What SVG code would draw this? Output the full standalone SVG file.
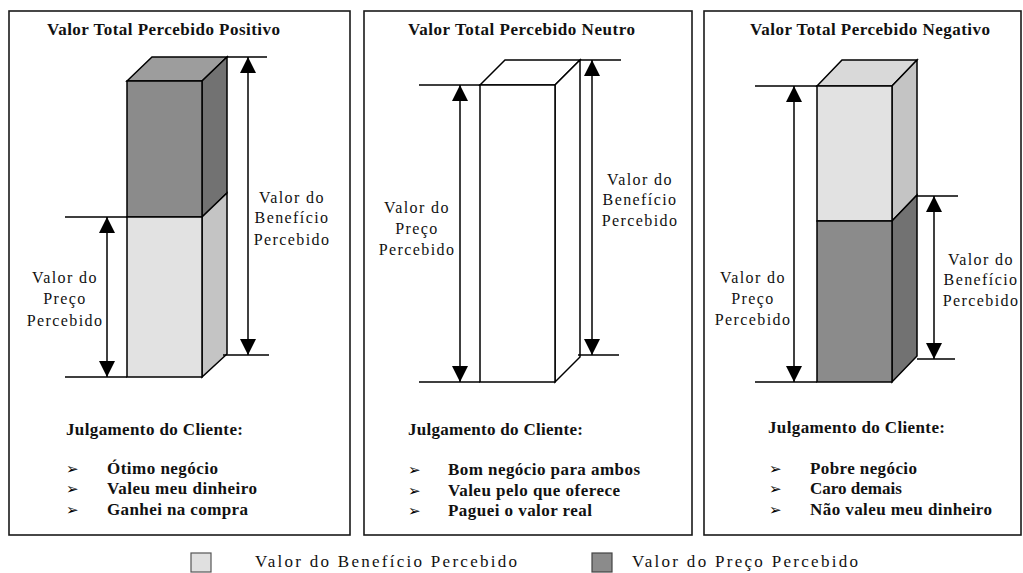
<svg xmlns="http://www.w3.org/2000/svg" width="1023" height="573" viewBox="0 0 1023 573">
  <style>
    .panel { fill: #ffffff; stroke: #1a1a1a; stroke-width: 1.6; }
    .edge { stroke: #000000; stroke-width: 1.5; stroke-linejoin: miter; }
    .dim { stroke: #000000; stroke-width: 1.5; fill: none; }
    .arrow { stroke: #000000; stroke-width: 1.5; fill: none; marker-start: url(#ah); marker-end: url(#ah); }
    .title { font-family: "Liberation Serif", "Times New Roman", serif; font-size: 17px; font-weight: bold; fill: #111111; }
    .label { font-family: "Liberation Serif", "Times New Roman", serif; font-size: 16px; letter-spacing: 1.4px; fill: #111111; text-anchor: middle; }
    .judge { font-family: "Liberation Serif", "Times New Roman", serif; font-size: 17px; font-weight: bold; fill: #111111; }
    .bullet { font-family: "DejaVu Sans", sans-serif; font-size: 15px; fill: #000000; }
    .legend { font-family: "Liberation Serif", "Times New Roman", serif; font-size: 17px; fill: #111111; }
    .darkTop { fill: #9d9d9d; }
    .darkFront { fill: #8b8b8b; }
    .darkSide { fill: #727272; }
    .lightTop { fill: #d9d9d9; }
    .lightFront { fill: #e2e2e2; }
    .lightSide { fill: #c4c4c4; }
    .blank { fill: #ffffff; }
  </style>
  <defs>
    <marker id="ah" viewBox="0 0 16 16" refX="16" refY="8" markerWidth="16" markerHeight="16" markerUnits="userSpaceOnUse" orient="auto-start-reverse">
      <path d="M0,0 L16,8 L0,16 Z" fill="#000000"/>
    </marker>
  </defs>

  <!-- Positive total perceived value -->
  <g id="panel-positive">
    <rect class="panel" x="9" y="11" width="341" height="524"/>
    <text class="title" x="47" y="35" textLength="233" lengthAdjust="spacing">Valor Total Percebido Positivo</text>
    <g id="box-positive" class="edge">
      <path class="darkTop" d="M127,81 L152,57 L227,57 L202,81 Z"/>
      <path class="darkSide" d="M202,81 L227,57 L227,193 L202,217 Z"/>
      <path class="lightSide" d="M202,217 L227,193 L227,354 L202,377 Z"/>
      <rect class="darkFront" x="127" y="81" width="75" height="136"/>
      <rect class="lightFront" x="127" y="217" width="75" height="160"/>
    </g>
    <text class="label" x="65" y="283">Valor do</text>
    <text class="label" x="65" y="304">Preço</text>
    <text class="label" x="65" y="326">Percebido</text>
    <text class="label" x="292" y="203">Valor do</text>
    <text class="label" x="292" y="223">Benefício</text>
    <text class="label" x="292" y="245">Percebido</text>
    <text class="judge" x="66" y="435" textLength="177" lengthAdjust="spacing">Julgamento do Cliente:</text>
    <text class="bullet" x="66" y="474">➢</text>
    <text class="bullet" x="66" y="494">➢</text>
    <text class="bullet" x="66" y="515">➢</text>
    <text class="judge" x="107" y="474" textLength="111" lengthAdjust="spacing">Ótimo negócio</text>
    <text class="judge" x="107" y="494" textLength="150" lengthAdjust="spacing">Valeu meu dinheiro</text>
    <text class="judge" x="107" y="515" textLength="141" lengthAdjust="spacing">Ganhei na compra</text>
  </g>

  <!-- Neutral total perceived value -->
  <g id="panel-neutral">
    <rect class="panel" x="364" y="11" width="328" height="524"/>
    <text class="title" x="408" y="35" textLength="227" lengthAdjust="spacing">Valor Total Percebido Neutro</text>
    <g id="box-neutral" class="edge">
      <path class="blank" d="M480,85 L505,60 L580,60 L555,85 Z"/>
      <path class="blank" d="M555,85 L580,60 L580,357 L555,382 Z"/>
      <rect class="blank" x="480" y="85" width="75" height="297"/>
    </g>
    <text class="label" x="417" y="213">Valor do</text>
    <text class="label" x="417" y="234">Preço</text>
    <text class="label" x="417" y="255">Percebido</text>
    <text class="label" x="640" y="185">Valor do</text>
    <text class="label" x="640" y="205">Benefício</text>
    <text class="label" x="640" y="226">Percebido</text>
    <text class="judge" x="408" y="435" textLength="175" lengthAdjust="spacing">Julgamento do Cliente:</text>
    <text class="bullet" x="408" y="475">➢</text>
    <text class="bullet" x="408" y="496">➢</text>
    <text class="bullet" x="408" y="516">➢</text>
    <text class="judge" x="448" y="475" textLength="192" lengthAdjust="spacing">Bom negócio para ambos</text>
    <text class="judge" x="448" y="496" textLength="172" lengthAdjust="spacing">Valeu pelo que oferece</text>
    <text class="judge" x="448" y="516" textLength="144" lengthAdjust="spacing">Paguei o valor real</text>
  </g>

  <!-- Negative total perceived value -->
  <g id="panel-negative">
    <rect class="panel" x="704" y="11" width="317" height="524"/>
    <text class="title" x="750" y="35" textLength="240" lengthAdjust="spacing">Valor Total Percebido Negativo</text>
    <g id="box-negative" class="edge">
      <path class="lightTop" d="M817,86 L842,60 L917,60 L892,86 Z"/>
      <path class="lightSide" d="M892,86 L917,60 L917,195 L892,221 Z"/>
      <path class="darkSide" d="M892,221 L917,195 L917,356 L892,382 Z"/>
      <rect class="lightFront" x="817" y="86" width="75" height="135"/>
      <rect class="darkFront" x="817" y="221" width="75" height="161"/>
    </g>
    <text class="label" x="753" y="283">Valor do</text>
    <text class="label" x="753" y="304">Preço</text>
    <text class="label" x="753" y="325">Percebido</text>
    <text class="label" x="981" y="265">Valor do</text>
    <text class="label" x="981" y="285">Benefício</text>
    <text class="label" x="981" y="306">Percebido</text>
    <text class="judge" x="768" y="433" textLength="177" lengthAdjust="spacing">Julgamento do Cliente:</text>
    <text class="bullet" x="769" y="474">➢</text>
    <text class="bullet" x="769" y="494">➢</text>
    <text class="bullet" x="769" y="515">➢</text>
    <text class="judge" x="810" y="474" textLength="107" lengthAdjust="spacing">Pobre negócio</text>
    <text class="judge" x="810" y="494">Caro demais</text>
    <text class="judge" x="810" y="515" textLength="182" lengthAdjust="spacing">Não valeu meu dinheiro</text>
  </g>

  <!-- Dimension lines and double-headed arrows -->
  <g id="connectors">
    <path class="dim" d="M227,57 H267 M223,355 H269 M65,217 H127 M65,377 H127"/>
    <line class="arrow" x1="248" y1="57" x2="248" y2="355"/>
    <line class="arrow" x1="107" y1="217" x2="107" y2="377"/>

    <path class="dim" d="M580,60 H621 M578,355 H619 M419,85 H480 M419,382 H480"/>
    <line class="arrow" x1="460" y1="85" x2="460" y2="382"/>
    <line class="arrow" x1="592" y1="60" x2="592" y2="355"/>

    <path class="dim" d="M755,86 H817 M755,382 H817 M917,196 H958 M917,359 H955"/>
    <line class="arrow" x1="794" y1="86" x2="794" y2="382"/>
    <line class="arrow" x1="934" y1="196" x2="934" y2="359"/>
  </g>

  <!-- Legend -->
  <g id="legend-benefit">
    <rect x="191" y="553" width="20" height="19" fill="#e0e0e0" stroke="#555555" stroke-width="1.2"/>
    <text class="legend" x="255" y="567" textLength="262" lengthAdjust="spacing">Valor do Benefício Percebido</text>
  </g>
  <g id="legend-price">
    <rect x="592" y="553" width="20" height="19" fill="#8b8b8b" stroke="#444444" stroke-width="1.2"/>
    <text class="legend" x="632" y="567" textLength="226" lengthAdjust="spacing">Valor do Preço Percebido</text>
  </g>
</svg>
